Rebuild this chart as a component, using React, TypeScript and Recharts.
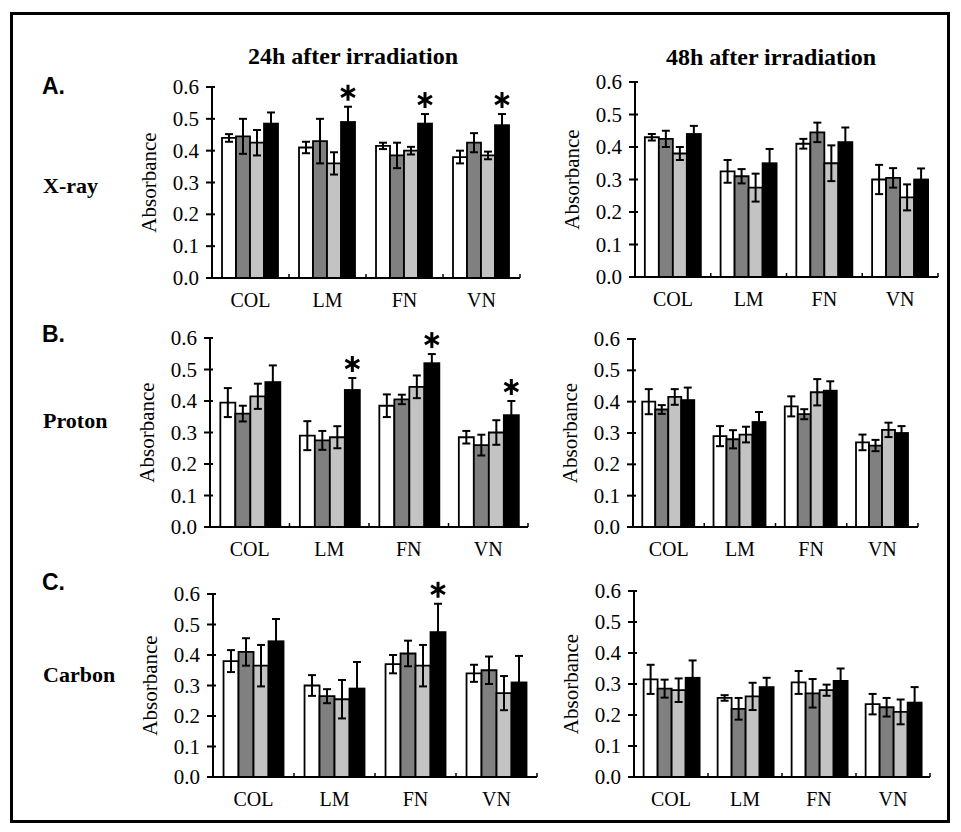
import React from 'react';
import { BarChart, Bar, XAxis, YAxis, ErrorBar } from 'recharts';

const categories = ['COL', 'LM', 'FN', 'VN'];
const yTicks = [0, 0.1, 0.2, 0.3, 0.4, 0.5, 0.6];

// each panel: rows are the 4 bar series (white, dark grey, light grey, black), columns follow categories
const xray24Mean = [
  [0.44, 0.41, 0.415, 0.38],
  [0.445, 0.43, 0.385, 0.425],
  [0.425, 0.36, 0.40, 0.385],
  [0.485, 0.49, 0.485, 0.48],
];
const xray24Err = [
  [0.012, 0.018, 0.01, 0.02],
  [0.055, 0.07, 0.04, 0.03],
  [0.04, 0.035, 0.012, 0.012],
  [0.035, 0.048, 0.03, 0.035],
];
const xray24Star = [false, true, true, true];

const xray48Mean = [
  [0.43, 0.325, 0.41, 0.30],
  [0.425, 0.31, 0.445, 0.305],
  [0.38, 0.275, 0.35, 0.245],
  [0.44, 0.35, 0.415, 0.30],
];
const xray48Err = [
  [0.01, 0.035, 0.015, 0.045],
  [0.025, 0.022, 0.03, 0.03],
  [0.02, 0.043, 0.055, 0.04],
  [0.025, 0.044, 0.045, 0.034],
];

const proton24Mean = [
  [0.395, 0.29, 0.385, 0.285],
  [0.36, 0.275, 0.405, 0.26],
  [0.415, 0.285, 0.445, 0.30],
  [0.46, 0.435, 0.52, 0.355],
];
const proton24Err = [
  [0.046, 0.046, 0.036, 0.02],
  [0.025, 0.03, 0.015, 0.033],
  [0.04, 0.035, 0.036, 0.039],
  [0.053, 0.038, 0.029, 0.045],
];
const proton24Star = [false, true, true, true];

const proton48Mean = [
  [0.40, 0.29, 0.385, 0.27],
  [0.375, 0.28, 0.36, 0.26],
  [0.415, 0.295, 0.43, 0.31],
  [0.405, 0.335, 0.435, 0.30],
];
const proton48Err = [
  [0.04, 0.032, 0.032, 0.025],
  [0.014, 0.029, 0.016, 0.018],
  [0.025, 0.025, 0.042, 0.023],
  [0.04, 0.032, 0.03, 0.022],
];

const carbon24Mean = [
  [0.38, 0.30, 0.37, 0.34],
  [0.41, 0.265, 0.405, 0.35],
  [0.365, 0.255, 0.365, 0.275],
  [0.445, 0.29, 0.475, 0.31],
];
const carbon24Err = [
  [0.036, 0.034, 0.03, 0.028],
  [0.045, 0.023, 0.042, 0.045],
  [0.068, 0.063, 0.068, 0.056],
  [0.073, 0.087, 0.093, 0.087],
];
const carbon24Star = [false, false, true, false];

const carbon48Mean = [
  [0.315, 0.255, 0.305, 0.235],
  [0.285, 0.22, 0.27, 0.225],
  [0.28, 0.26, 0.28, 0.21],
  [0.32, 0.29, 0.31, 0.24],
];
const carbon48Err = [
  [0.047, 0.009, 0.037, 0.033],
  [0.029, 0.035, 0.046, 0.03],
  [0.038, 0.044, 0.018, 0.04],
  [0.056, 0.03, 0.04, 0.05],
];

const noStars = [false, false, false, false];
const barFills = ['#ffffff', '#808080', '#c3c3c3', '#000000'];

const SERIF = "'Liberation Serif', Tinos, 'Times New Roman', 'DejaVu Serif', serif";
const SANS = "'Liberation Sans', Arimo, Arial, sans-serif";

const Y_W = 80;
const M_TOP = 22;
const M_RIGHT = 6;
const X_H = 36;

interface Panel {
  mean: number[][];
  err: number[][];
  star: boolean[];
  axisX: number;
  top: number;
  bottom: number;
  right: number;
}

const panels: Panel[] = [
  { mean: xray24Mean, err: xray24Err, star: xray24Star, axisX: 212, top: 87, bottom: 278, right: 520 },
  { mean: xray48Mean, err: xray48Err, star: noStars, axisX: 635, top: 82, bottom: 277, right: 938 },
  { mean: proton24Mean, err: proton24Err, star: proton24Star, axisX: 210, top: 338, bottom: 527, right: 528 },
  { mean: proton48Mean, err: proton48Err, star: noStars, axisX: 633, top: 339, bottom: 527, right: 918 },
  { mean: carbon24Mean, err: carbon24Err, star: carbon24Star, axisX: 213, top: 594, bottom: 777, right: 537 },
  { mean: carbon48Mean, err: carbon48Err, star: noStars, axisX: 634, top: 591, bottom: 777, right: 930 },
];

function toRows(p: Panel) {
  return categories.map((cat, i) => ({
    cat,
    v0: p.mean[0][i], e0: p.err[0][i],
    v1: p.mean[1][i], e1: p.err[1][i],
    v2: p.mean[2][i], e2: p.err[2][i],
    v3: p.mean[3][i], e3: p.err[3][i],
    star: p.star[i],
  }));
}

const YTick = (props: any) => {
  const { x, y, payload } = props;
  const ax = x + 13;
  return (
    <g>
      <line x1={ax - 6} x2={ax + 3} y1={y} y2={y} stroke="#000" strokeWidth={2} />
      <text x={x} y={y} textAnchor="end" dominantBaseline="central" style={{ fontFamily: SERIF }} fontSize={21} fill="#000">
        {Number(payload.value).toFixed(1)}
      </text>
    </g>
  );
};

const makeXTick = (band: number) => (props: any) => {
  const { x, y, payload } = props;
  return (
    <g>
      <line x1={x + band / 2} x2={x + band / 2} y1={y} y2={y - 4} stroke="#000" strokeWidth={1.5} />
      <text x={x} y={y + 22} textAnchor="middle" dominantBaseline="central" style={{ fontFamily: SERIF }} fontSize={20} fill="#000">
        {payload.value}
      </text>
    </g>
  );
};

const AbsLabel = (props: any) => {
  const vb = props.viewBox || {};
  const cx = (vb.x || 0) + 17;
  const cy = (vb.y || 0) + (vb.height || 0) / 2;
  return (
    <text x={cx} y={cy} transform={`rotate(-90 ${cx} ${cy})`} textAnchor="middle" dominantBaseline="central"
      style={{ fontFamily: SERIF }} fontSize={21} fill="#000">
      Absorbance
    </text>
  );
};

// black bar with the significance asterisk above its error bar
const BlackBar = (props: any) => {
  const { x, y, width, height, payload } = props;
  let star = null;
  if (payload && payload.star && payload.v3 > 0) {
    const pxPerUnit = height / payload.v3;
    const cx = x + width / 2;
    const cy = y - payload.e3 * pxPerUnit - 14;
    const r = 8;
    star = (
      <g stroke="#000" strokeWidth={3}>
        {[90, 30, 150].map((a) => {
          const rad = (a * Math.PI) / 180;
          const dx = Math.cos(rad) * r;
          const dy = Math.sin(rad) * r;
          return <line key={a} x1={cx - dx} y1={cy - dy} x2={cx + dx} y2={cy + dy} />;
        })}
      </g>
    );
  }
  return (
    <g>
      <rect x={x} y={y} width={width} height={height} fill="#000" stroke="#000" strokeWidth={1.8} />
      {star}
    </g>
  );
};

function SmallChart({ p }: { p: Panel }) {
  const plotW = p.right - p.axisX;
  const plotH = p.bottom - p.top;
  const width = Y_W + plotW + M_RIGHT;
  const height = M_TOP + plotH + X_H;
  const rows = toRows(p);
  return (
    <div style={{ position: 'absolute', left: p.axisX - Y_W, top: p.top - M_TOP, width, height }}>
      <BarChart width={width} height={height} data={rows} barGap={0} barCategoryGap="13%"
        margin={{ top: M_TOP, right: M_RIGHT, bottom: 0, left: 0 }} style={{ overflow: 'visible' }}>
        <XAxis dataKey="cat" height={X_H} axisLine={{ stroke: '#000', strokeWidth: 2 }} tickLine={false}
          tickSize={0} tickMargin={0} interval={0} tick={makeXTick(plotW / 4)} />
        <YAxis width={Y_W} domain={[0, 0.6]} ticks={yTicks}
          axisLine={{ stroke: '#000', strokeWidth: 2 }} tickLine={false} tickSize={6} tickMargin={7}
          tick={<YTick />} label={<AbsLabel />} />
        {[0, 1, 2].map((k) => (
          <Bar key={k} dataKey={`v${k}`} fill={barFills[k]} stroke="#000" strokeWidth={1.8} isAnimationActive={false}>
            <ErrorBar dataKey={`e${k}`} width={4} stroke="#000" strokeWidth={2} />
          </Bar>
        ))}
        <Bar dataKey="v3" fill={barFills[3]} shape={<BlackBar />} isAnimationActive={false}>
          <ErrorBar dataKey="e3" width={4} stroke="#000" strokeWidth={2} />
        </Bar>
      </BarChart>
    </div>
  );
}

const centered = (x: number, y: number): React.CSSProperties => ({
  position: 'absolute', left: x, top: y, transform: 'translate(-50%, -50%)', whiteSpace: 'nowrap',
});
const leftMid = (x: number, y: number): React.CSSProperties => ({
  position: 'absolute', left: x, top: y, transform: 'translateY(-50%)', whiteSpace: 'nowrap',
});

const rowLetters = [{ t: 'A.', y: 86 }, { t: 'B.', y: 334 }, { t: 'C.', y: 582 }];
const rowNames = [{ t: 'X-ray', y: 186 }, { t: 'Proton', y: 421 }, { t: 'Carbon', y: 675 }];

export default function App() {
  return (
    <div style={{ position: 'absolute', left: 0, top: 0, width: 961, height: 832, background: '#fff', overflow: 'hidden', fontFamily: SERIF }}>
      <div style={{ position: 'absolute', left: 10, top: 12, width: 940, height: 811, border: '3px solid #000', boxSizing: 'border-box' }} />
      <div style={{ ...centered(353, 56), fontFamily: SERIF, fontWeight: 'bold', fontSize: 24 }}>24h after irradiation</div>
      <div style={{ ...centered(771, 57), fontFamily: SERIF, fontWeight: 'bold', fontSize: 24 }}>48h after irradiation</div>
      {rowLetters.map((r) => (
        <div key={r.t} style={{ ...leftMid(42, r.y), fontFamily: SANS, fontWeight: 'bold', fontSize: 23 }}>{r.t}</div>
      ))}
      {rowNames.map((r) => (
        <div key={r.t} style={{ ...leftMid(43, r.y), fontFamily: SERIF, fontWeight: 'bold', fontSize: 22 }}>{r.t}</div>
      ))}
      {panels.map((p, i) => (
        <SmallChart key={i} p={p} />
      ))}
    </div>
  );
}
